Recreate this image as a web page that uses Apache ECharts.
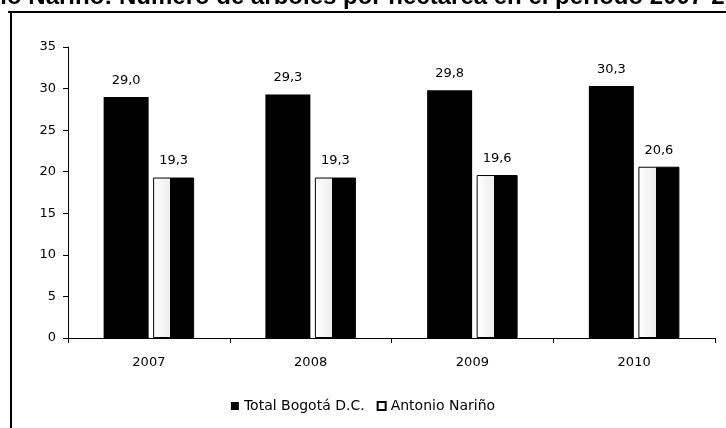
<!DOCTYPE html>
<html>
<head>
<meta charset="utf-8">
<script src="https://cdn.jsdelivr.net/npm/echarts@6/dist/echarts.min.js"></script>
<style>
  html, body { margin: 0; padding: 0; background: #fff; }
  #chart { width: 726px; height: 428px; }
</style>
</head>
<body>
<div id="chart"></div>
<script>
// data
const years = ['2007', '2008', '2009', '2010']
const bogota = [29.0, 29.3, 29.8, 30.3]
const narino = [19.3, 19.3, 19.6, 20.6]
const yTicks = [0, 5, 10, 15, 20, 25, 30, 35]

const font = '"DejaVu Sans", sans-serif'
const titleFont = '"Liberation Sans", Arial, sans-serif'
const comma = p => p.value.toFixed(1).replace('.', ',')

const chart = echarts.init(document.getElementById('chart'))

chart.setOption({
  animation: false,
  backgroundColor: '#fff',
  textStyle: { fontFamily: font },
  graphic: [
    {
      type: 'text',
      left: -69,
      top: -15,
      style: {
        text: 'Antonio Nariño: Número de árboles por hectárea en el periodo 2007-2010',
        font: 'bold 24px ' + titleFont,
        fill: '#000'
      }
    },
    // scanned frame round the chart
    {
      type: 'line',
      shape: { x1: 8, y1: 12, x2: 726, y2: 12 },
      style: { stroke: '#000', lineWidth: 2 }
    },
    {
      type: 'line',
      shape: { x1: 11, y1: 12, x2: 11, y2: 428 },
      style: { stroke: '#000', lineWidth: 2 }
    }
  ],
  legend: {
    bottom: 10,
    left: 'center',
    itemWidth: 8,
    itemHeight: 8,
    itemGap: 12,
    textStyle: { color: '#000', fontSize: 14, fontFamily: font },
    data: [
      { name: 'Total Bogotá D.C.', icon: 'rect', itemStyle: { color: '#000' } },
      { name: 'Antonio Nariño', icon: 'rect', itemStyle: { color: '#fff', borderColor: '#000', borderWidth: 2 } }
    ]
  },
  grid: {
    left: 68,
    right: 11,
    top: 47,
    bottom: 90
  },
  xAxis: {
    type: 'category',
    data: years,
    axisLine: { lineStyle: { color: '#000', width: 1 } },
    axisTick: { show: true, length: 5, lineStyle: { color: '#000' } },
    axisLabel: { color: '#000', fontSize: 13, margin: 18 }
  },
  yAxis: {
    type: 'value',
    min: yTicks[0],
    max: yTicks[yTicks.length - 1],
    interval: 5,
    axisLine: { show: true, lineStyle: { color: '#000', width: 1 } },
    axisTick: { show: true, length: 5, lineStyle: { color: '#000' } },
    axisLabel: { color: '#000', fontSize: 13, margin: 12 },
    splitLine: { show: false }
  },
  series: [
    {
      name: 'Total Bogotá D.C.',
      type: 'bar',
      data: bogota,
      barWidth: 45,
      barGap: '10%',
      itemStyle: { color: '#000' },
      label: { show: true, position: 'top', distance: 10, color: '#000', fontSize: 13, formatter: comma }
    },
    {
      name: 'Antonio Nariño',
      type: 'bar',
      data: narino,
      barWidth: 41,
      itemStyle: {
        color: new echarts.graphic.LinearGradient(0, 0, 1, 0, [
          { offset: 0, color: '#fff' },
          { offset: 0.42, color: '#eee' },
          { offset: 0.42, color: '#000' },
          { offset: 1, color: '#000' }
        ]),
        borderColor: '#000',
        borderWidth: 1
      },
      label: { show: true, position: 'top', distance: 10, color: '#000', fontSize: 13, formatter: comma }
    }
  ]
})
</script>
</body>
</html>
